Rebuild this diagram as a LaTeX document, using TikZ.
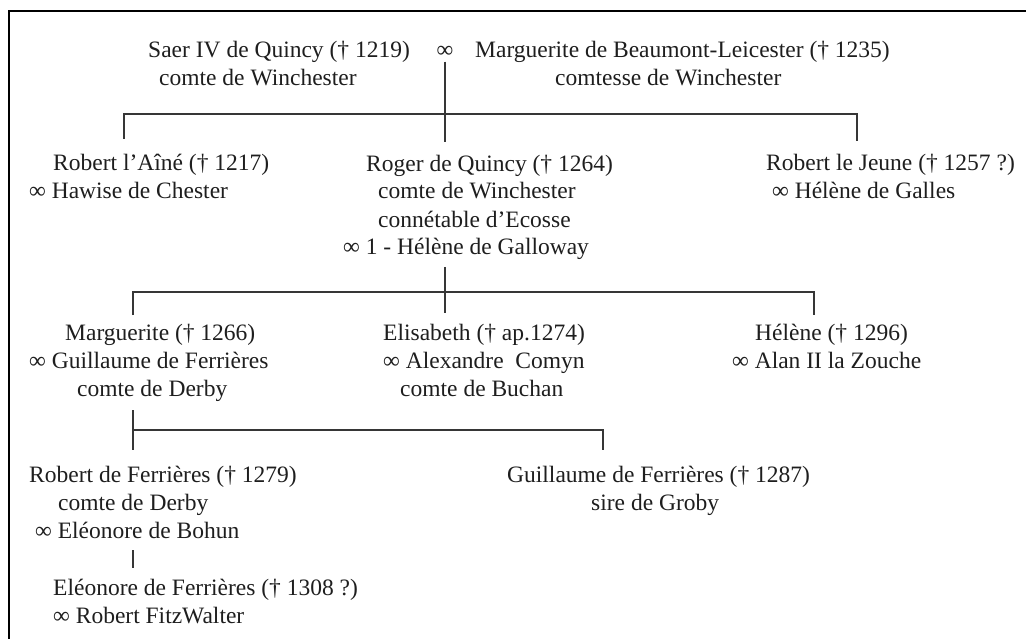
\documentclass[tikz,border=0pt]{standalone}
\usepackage{fontspec}
\setmainfont{Liberation Serif}
\usepackage{xcolor}
\usepackage{tikz}
\definecolor{ink}{HTML}{1E1E1E}
\definecolor{rule}{HTML}{363636}
\tikzset{
  frame/.style={draw=black, line width=2.6pt},
  link/.style={draw=rule, line width=1.3pt},
  pers/.style={anchor=base west, align=left, text=ink, inner sep=0pt,
    font=\fontsize{23.5}{28}\selectfont},
  wed/.style={anchor=base, text=ink, font=\fontsize{23.5}{28}\selectfont},
}

\begin{document}
\begin{tikzpicture}[x=1pt,y=-1pt]
  \useasboundingbox (0,0) rectangle (1026,639);
  \draw[frame] (1026,11) -- (9,11) -- (9,639);

  % nodes sit on the baseline of their last line
  \node[pers] (saer) at (148,86) {Saer IV de Quincy († 1219)\\\hspace*{11pt}comte de Winchester};
  \node[wed] (marr) at (445,58) {∞};
  \node[pers] (beau) at (475,86) {Marguerite de Beaumont-Leicester († 1235)\\\hspace*{80pt}comtesse de Winchester};

  \node[pers] (robA) at (29,199) {\hspace*{24pt}Robert l’Aîné († 1217)\\∞ Hawise de Chester};
  \node[pers] (roger) at (343,255) {\hspace*{23pt}Roger de Quincy († 1264)\\\hspace*{35pt}comte de Winchester\\\hspace*{35pt}connétable d’Ecosse\\∞ 1 - Hélène de Galloway};
  \node[pers] (robJ) at (766,199) {Robert le Jeune († 1257 ?)\\\hspace*{6pt}∞ Hélène de Galles};

  \node[pers] (marg) at (29,396) {\hspace*{36pt}Marguerite († 1266)\\∞ Guillaume de Ferrières\\\hspace*{48pt}comte de Derby};
  \node[pers] (elis) at (383,396) {Elisabeth († ap.1274)\\∞ Alexandre\ \ Comyn\\\hspace*{17pt}comte de Buchan};
  \node[pers] (hel) at (732,368) {\hspace*{23pt}Hélène († 1296)\\∞ Alan II la Zouche};

  \node[pers] (robF) at (29,538) {Robert de Ferrières († 1279)\\\hspace*{29pt}comte de Derby\\\hspace*{6pt}∞ Eléonore de Bohun};
  \node[pers] (guil) at (507,510) {Guillaume de Ferrières († 1287)\\\hspace*{84pt}sire de Groby};

  \node[pers] (eleo) at (53,623) {Eléonore de Ferrières († 1308 ?)\\∞ Robert FitzWalter};

  % descent lines
  \coordinate (j1) at (445,114);
  \coordinate (robA-in) at (124,139);
  \coordinate (roger-in) at (445,142);
  \coordinate (robJ-in) at (857,141);
  \draw[link] (marr.south) -- (roger-in);
  \draw[link] (robA-in) |- (j1) -| (robJ-in);

  \coordinate (roger-out) at (445,267);
  \coordinate (j2) at (445,292);
  \coordinate (marg-in) at (133,315);
  \coordinate (elis-in) at (445,313);
  \coordinate (hel-in) at (814,315);
  \draw[link] (roger-out) -- (elis-in);
  \draw[link] (marg-in) |- (j2) -| (hel-in);

  \coordinate (marg-out) at (133,410);
  \coordinate (j3) at (133,430);
  \coordinate (robF-in) at (133,450);
  \coordinate (guil-in) at (603,450);
  \draw[link] (marg-out) -- (robF-in);
  \draw[link] (j3) -| (guil-in);

  \coordinate (robF-out) at (133,550);
  \coordinate (eleo-in) at (133,568);
  \draw[link] (robF-out) -- (eleo-in);
\end{tikzpicture}
\end{document}
